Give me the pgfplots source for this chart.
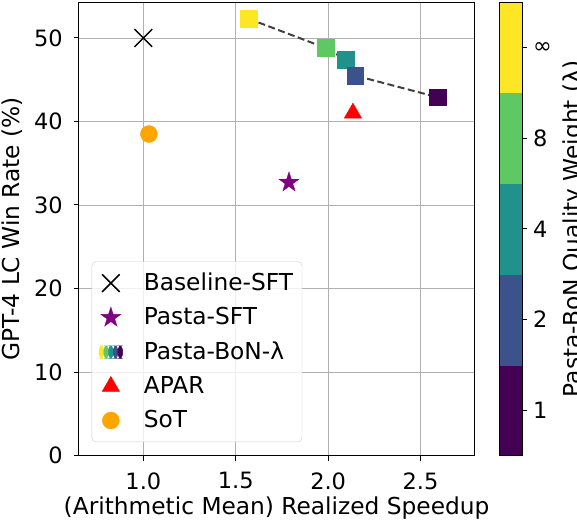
\documentclass[border=0pt]{standalone}
\usepackage{fontspec}
\setmainfont{DejaVu Sans}
\usepackage{pgfplots}
\pgfplotsset{compat=1.18}

\definecolor{vir1}{RGB}{68,1,84}
\definecolor{vir2}{RGB}{59,82,139}
\definecolor{vir4}{RGB}{33,145,140}
\definecolor{vir8}{RGB}{94,201,98}
\definecolor{virinf}{RGB}{253,231,37}
\definecolor{sotorange}{RGB}{255,165,0}
\definecolor{sftpurple}{RGB}{128,0,128}

% filled five-pointed star (matplotlib '*')
\pgfdeclareplotmark{fstar}{%
  \pgfpathmoveto{\pgfpointpolar{90}{\pgfplotmarksize}}%
  \pgfpathlineto{\pgfpointpolar{126}{0.382\pgfplotmarksize}}%
  \pgfpathlineto{\pgfpointpolar{162}{\pgfplotmarksize}}%
  \pgfpathlineto{\pgfpointpolar{198}{0.382\pgfplotmarksize}}%
  \pgfpathlineto{\pgfpointpolar{234}{\pgfplotmarksize}}%
  \pgfpathlineto{\pgfpointpolar{270}{0.382\pgfplotmarksize}}%
  \pgfpathlineto{\pgfpointpolar{306}{\pgfplotmarksize}}%
  \pgfpathlineto{\pgfpointpolar{342}{0.382\pgfplotmarksize}}%
  \pgfpathlineto{\pgfpointpolar{18}{\pgfplotmarksize}}%
  \pgfpathlineto{\pgfpointpolar{54}{0.382\pgfplotmarksize}}%
  \pgfpathclose
  \pgfusepathqfillstroke
}

\begin{document}
\fontsize{23.3}{28}\selectfont
\begin{tikzpicture}
\begin{axis}[
  scale only axis, width=396pt, height=453.4pt,
  xmin=0.65, xmax=2.792, ymin=0, ymax=54.27,
  xtick={1,1.5,2,2.5}, ytick={0,10,20,30,40,50},
  /pgf/number format/assume math mode=true,
  tick label style={font=\fontsize{22.5}{27}\selectfont},
  xticklabel style={yshift=-4pt, /pgf/number format/.cd, fixed, fixed zerofill, precision=1},
  yticklabel style={xshift=-3pt},
  tick pos=left, tick align=outside, major tick length=5pt,
  tick style={black, line width=1pt},
  axis line style={line width=1pt},
  grid=major, grid style={black!31, line width=0.9pt},
  xlabel={(Arithmetic Mean) Realized Speedup},
  xlabel shift=-8pt,
  ylabel={GPT-4 LC Win Rate (\%)},
  ylabel shift=-4pt,
  colormap={vir}{rgb255=(68,1,84) rgb255=(59,82,139) rgb255=(33,145,140) rgb255=(94,201,98) rgb255=(253,231,37)},
  colormap access=piecewise constant,
  point meta min=0.5, point meta max=5.5,
  colorbar,
  colorbar style={
    at={(parent axis.north east)}, anchor=north west, xshift=16pt,
    scale only axis, width=23pt,
    ytick={1,2,3,4,5}, yticklabels={1,2,4,8,∞},
    ytick pos=right, yticklabel pos=right,
    yticklabel style={xshift=-2pt},
    tick align=outside, major tick length=5pt,
    tick style={black, line width=1pt},
    axis line style={line width=1pt},
    ylabel={Pasta-BoN Quality Weight (λ)},
    ylabel shift=-5pt,
  },
  legend image code/.code={\draw[#1, opacity=1] plot coordinates {(12pt,0pt)};},
  legend cell align=left,
  legend style={at={(0.0328,0.0296)}, anchor=south west,
    draw=black!20, rounded corners=4pt, fill=white, fill opacity=0.8, text opacity=1,
    inner xsep=7pt, inner ysep=9pt, row sep=9.5pt, column sep=19pt},
]
\addplot[only marks, mark=x, mark size=12.5pt, black, line width=1.5pt]
  coordinates {(1.0,50.0)};
\addlegendentry{Baseline-SFT}

\addplot[only marks, mark=fstar, mark size=10.5pt, sftpurple]
  coordinates {(1.788,32.7)};
\addlegendentry{Pasta-SFT}

\addplot[scatter, only marks, mark=square*, mark size=8.3pt, point meta=explicit,
  scatter/use mapped color={draw=mapped color, fill=mapped color},
  legend image code/.code={
    \begin{scope}[opacity=1]
    \fill[virinf] (0.2pt,-6.3pt) rectangle (4.92pt,6.3pt);
    \fill[vir8] (4.92pt,-6.3pt) rectangle (9.64pt,6.3pt);
    \fill[vir4] (9.64pt,-6.3pt) rectangle (14.36pt,6.3pt);
    \fill[vir2] (14.36pt,-6.3pt) rectangle (19.08pt,6.3pt);
    \fill[vir1] (19.08pt,-6.3pt) rectangle (23.8pt,6.3pt);
    \end{scope}
  }]
  table[meta=m] {
x     y     m
1.570 52.3  5
1.987 48.8  4
2.095 47.4  3
2.146 45.5  2
2.593 42.9  1
};
\addlegendentry{Pasta-BoN-λ}

\addplot[only marks, mark=triangle*, mark size=10pt, red]
  coordinates {(2.134,41.0)};
\addlegendentry{APAR}

\addplot[only marks, mark=*, mark size=8.5pt, sotorange]
  coordinates {(1.03,38.5)};
\addlegendentry{SoT}

\addplot[forget plot, no marks, black!75, line width=2pt, dash pattern=on 7pt off 3.5pt]
  coordinates {(1.570,52.3) (1.987,48.8) (2.095,47.4) (2.146,45.5) (2.593,42.9)};

\coordinate (bl) at (rel axis cs:0,0);
\coordinate (tr) at (rel axis cs:1,1);
\end{axis}
\pgfresetboundingbox
\path[use as bounding box] ([shift={(-78.7pt,-69.3pt)}]bl) rectangle ([shift={(102.5pt,2.3pt)}]tr);
\end{tikzpicture}
\end{document}
